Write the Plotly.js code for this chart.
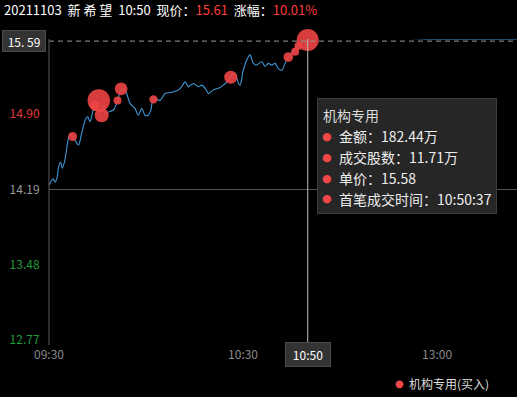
<!DOCTYPE html>
<html>
<head>
<meta charset="utf-8">
<script src="https://cdn.plot.ly/plotly-3.0.1.min.js"></script>
<style>
html,body{margin:0;padding:0;background:#000;}
#chart{width:517px;height:397px;}
</style>
</head>
<body>
<div id="chart"></div>
<script>
// ---- data (minutes after 09:30 on the trading clock; 13:00 = 120) ----
var lineMinutes = [0, 0.8, 1.3, 1.9, 2.4, 3.1, 3.6, 4.1, 4.9, 6.0, 6.5, 7.5, 9.1, 10.1, 11.4, 12.0, 12.7, 13.7, 14.8, 15.8, 16.8, 17.5, 18.3, 19.9, 20.9, 22.5, 23.5, 25.1, 26.6, 27.6, 28.7, 29.7, 30.7, 31.5, 32.3, 34.3, 35.9, 38.4, 40.5, 42.1, 43.1, 44.6, 46.2, 47.2, 48.3, 49.3, 50.8, 52.4, 53.9, 55.5, 56.5, 57.5, 58.6, 59.1, 60.1, 61.6, 62.2, 63.2, 64.2, 65.8, 66.8, 67.8, 68.9, 69.9, 70.9, 72.0, 73.0, 74.0, 75.1, 76.1, 77.1, 78.2, 79.2, 80.2, 120, 240];
var linePrices = [14.23, 14.275, 14.29, 14.26, 14.29, 14.42, 14.45, 14.39, 14.465, 14.67, 14.70, 14.685, 14.61, 14.72, 14.86, 14.875, 14.83, 14.94, 14.985, 14.92, 14.985, 14.905, 14.92, 14.94, 15.00, 15.14, 15.13, 15.00, 14.955, 14.89, 14.955, 14.89, 14.89, 14.94, 15.05, 15.03, 15.095, 15.11, 15.14, 15.205, 15.16, 15.19, 15.16, 15.175, 15.145, 15.095, 15.13, 15.145, 15.175, 15.22, 15.27, 15.285, 15.19, 15.175, 15.32, 15.44, 15.46, 15.38, 15.365, 15.395, 15.35, 15.38, 15.365, 15.38, 15.33, 15.315, 15.38, 15.44, 15.475, 15.505, 15.57, 15.535, 15.535, 15.61, 15.61, 15.61];

var bubbleMinutes = [15.4, 7.3, 16.3, 14.2, 21.2, 22.3, 32.3, 56.2, 74.0, 76.1, 77.1, 80.0];
var bubblePrices  = [15.03, 14.69, 14.89, 14.98, 15.03, 15.14, 15.04, 15.25, 15.44, 15.49, 15.545, 15.60];
var bubbleAmounts = [190, 30, 74, 37, 24, 61, 26, 64, 35, 24, 24, 182.44]; // 万元

var yTickValues = [12.77, 13.48, 14.19, 14.90];
var yTickLabels = ['12.77', '13.48', '14.19', '14.90'];
var yTickColors = ['#1f9a3c', '#1f9a3c', '#9a9a9a', '#e03a3a'];
var xTickValues = [0, 60, 120];
var xTickLabels = ['09:30', '10:30', '13:00'];

var prevClose = 14.19;
var crossPrice = 15.59;
var crossMinute = 80;
var crossLabel = '10:50';

var headerDate = '20211103', headerName = '新 希 望', headerTime = '10:50';
var headerPrice = '15.61', headerChange = '10.01%';

var tipTitle = '机构专用';
var tipLines = ['金额：182.44万', '成交股数：11.71万', '单价：15.58', '首笔成交时间：10:50:37'];
var legendName = '机构专用(买入)';

// ---- helpers ----
var L = 49, R = 517, T = 39, B = 340;
function px(x){ return (x - L) / (R - L); }
function py(y){ return (B - y) / (B - T); }
var red = '#f04848';
var FONT = '"Noto Sans CJK SC", "Noto Sans", sans-serif';

var sizeK = 22 / Math.sqrt(182.44);
var bubbleSizes = bubbleAmounts.map(function(a){ return sizeK * Math.sqrt(a); });

var traces = [
  {x: lineMinutes, y: linePrices, type: 'scatter', mode: 'lines',
   line: {color: '#3d98d8', width: 1.1, shape: 'spline', smoothing: 0.8},
   hoverinfo: 'skip', showlegend: false, cliponaxis: false},
  {x: bubbleMinutes, y: bubblePrices, type: 'scatter', mode: 'markers', cliponaxis: false,
   marker: {size: bubbleSizes, sizemode: 'diameter', color: 'rgba(240,68,68,0.9)', opacity: 1, line: {width: 0}},
   hoverinfo: 'skip', showlegend: false, name: legendName}
];

var annotations = [];
// header
annotations.push({xref: 'paper', yref: 'paper', x: px(2), y: py(10), xanchor: 'left', yanchor: 'middle',
  showarrow: false, font: {family: FONT, size: 13, color: '#ffffff'},
  text: headerDate + '  ' + headerName + '  ' + headerTime + '  现价：<span style="color:#ff3b3b">' + headerPrice +
        '</span>  涨幅：<span style="color:#ff3b3b">' + headerChange + '</span>'});
// y crosshair label
annotations.push({xref: 'paper', yref: 'y', x: px(24), y: crossPrice, xanchor: 'center', yanchor: 'middle',
  showarrow: false, text: '15. 59', font: {family: FONT, size: 12, color: '#ffffff'},
  bgcolor: '#333333', bordercolor: '#4a4a4a', borderwidth: 1, width: 40, height: 18, borderpad: 1});
// x crosshair label
annotations.push({xref: 'x', yref: 'paper', x: crossMinute, y: py(354.5), xanchor: 'center', yanchor: 'middle',
  showarrow: false, text: crossLabel, font: {family: FONT, size: 12, color: '#ffffff'},
  bgcolor: '#333333', bordercolor: '#4a4a4a', borderwidth: 1, width: 42, height: 21, borderpad: 1});
// tooltip box
annotations.push({xref: 'paper', yref: 'paper', x: px(317), y: py(98), xanchor: 'left', yanchor: 'top',
  showarrow: false, text: '', bgcolor: '#262626', bordercolor: '#3c3c3c', borderwidth: 1,
  width: 178, height: 114, borderpad: 0});
annotations.push({xref: 'paper', yref: 'paper', x: px(321), y: py(115), xanchor: 'left', yanchor: 'middle',
  showarrow: false, text: tipTitle, font: {family: FONT, size: 14, color: '#dddddd'}});
tipLines.forEach(function(t, i){
  var yy = 136 + i * 21;
  annotations.push({xref: 'paper', yref: 'paper', x: px(327), y: py(yy), xanchor: 'center', yanchor: 'middle',
    showarrow: false, text: '●', font: {family: 'DejaVu Sans', size: 11, color: red}});
  annotations.push({xref: 'paper', yref: 'paper', x: px(337), y: py(yy), xanchor: 'left', yanchor: 'middle',
    showarrow: false, text: t, font: {family: FONT, size: 14, color: '#eeeeee'}});
});
// legend
annotations.push({xref: 'paper', yref: 'paper', x: px(399), y: py(383), xanchor: 'center', yanchor: 'middle',
  showarrow: false, text: '●', font: {family: 'DejaVu Sans', size: 10, color: red}});
annotations.push({xref: 'paper', yref: 'paper', x: px(407), y: py(383), xanchor: 'left', yanchor: 'middle',
  showarrow: false, text: legendName, font: {family: FONT, size: 12, color: '#dddddd'}});

var shapes = [
  {type: 'line', xref: 'paper', yref: 'y', x0: 0, x1: 1, y0: prevClose, y1: prevClose,
   line: {color: '#555555', width: 1}},
  {type: 'line', xref: 'paper', yref: 'y', x0: 0, x1: 1, y0: crossPrice, y1: crossPrice,
   line: {color: '#9a9a9a', width: 1, dash: '5px,4px'}},
  {type: 'line', xref: 'paper', yref: 'paper', x0: 0, x1: 0, y0: py(345), y1: 1,
   line: {color: '#5a5a5a', width: 1}},
  {type: 'line', xref: 'x', yref: 'paper', x0: crossMinute, x1: crossMinute, y0: py(343), y1: 1,
   line: {color: '#bdbdbd', width: 1}}
];

var layout = {
  width: 517, height: 397,
  paper_bgcolor: '#000000', plot_bgcolor: '#000000',
  margin: {l: L, r: 517 - R, t: T, b: 397 - B, pad: 0},
  showlegend: false,
  font: {family: FONT, color: '#dddddd'},
  xaxis: {range: [0, (R - L) / 3.234], tickvals: xTickValues, ticktext: xTickLabels,
    showgrid: false, zeroline: false, showline: false, ticks: 'outside', ticklen: 4, tickcolor: 'rgba(0,0,0,0)',
    tickfont: {family: FONT, size: 12, color: '#8a8a8a'}, fixedrange: true},
  yaxis: {range: [12.77, 15.61], tickvals: yTickValues,
    ticktext: yTickLabels.map(function(t, i){ return '<span style="color:' + yTickColors[i] + '">' + t + '</span>'; }),
    showgrid: false, zeroline: false, showline: false, ticks: 'outside', ticklen: 6, tickcolor: 'rgba(0,0,0,0)',
    tickfont: {family: FONT, size: 12, color: '#9a9a9a'}, fixedrange: true},
  annotations: annotations,
  shapes: shapes,
  hovermode: false
};

Plotly.newPlot('chart', traces, layout, {displayModeBar: false, staticPlot: true});
</script>
</body>
</html>
